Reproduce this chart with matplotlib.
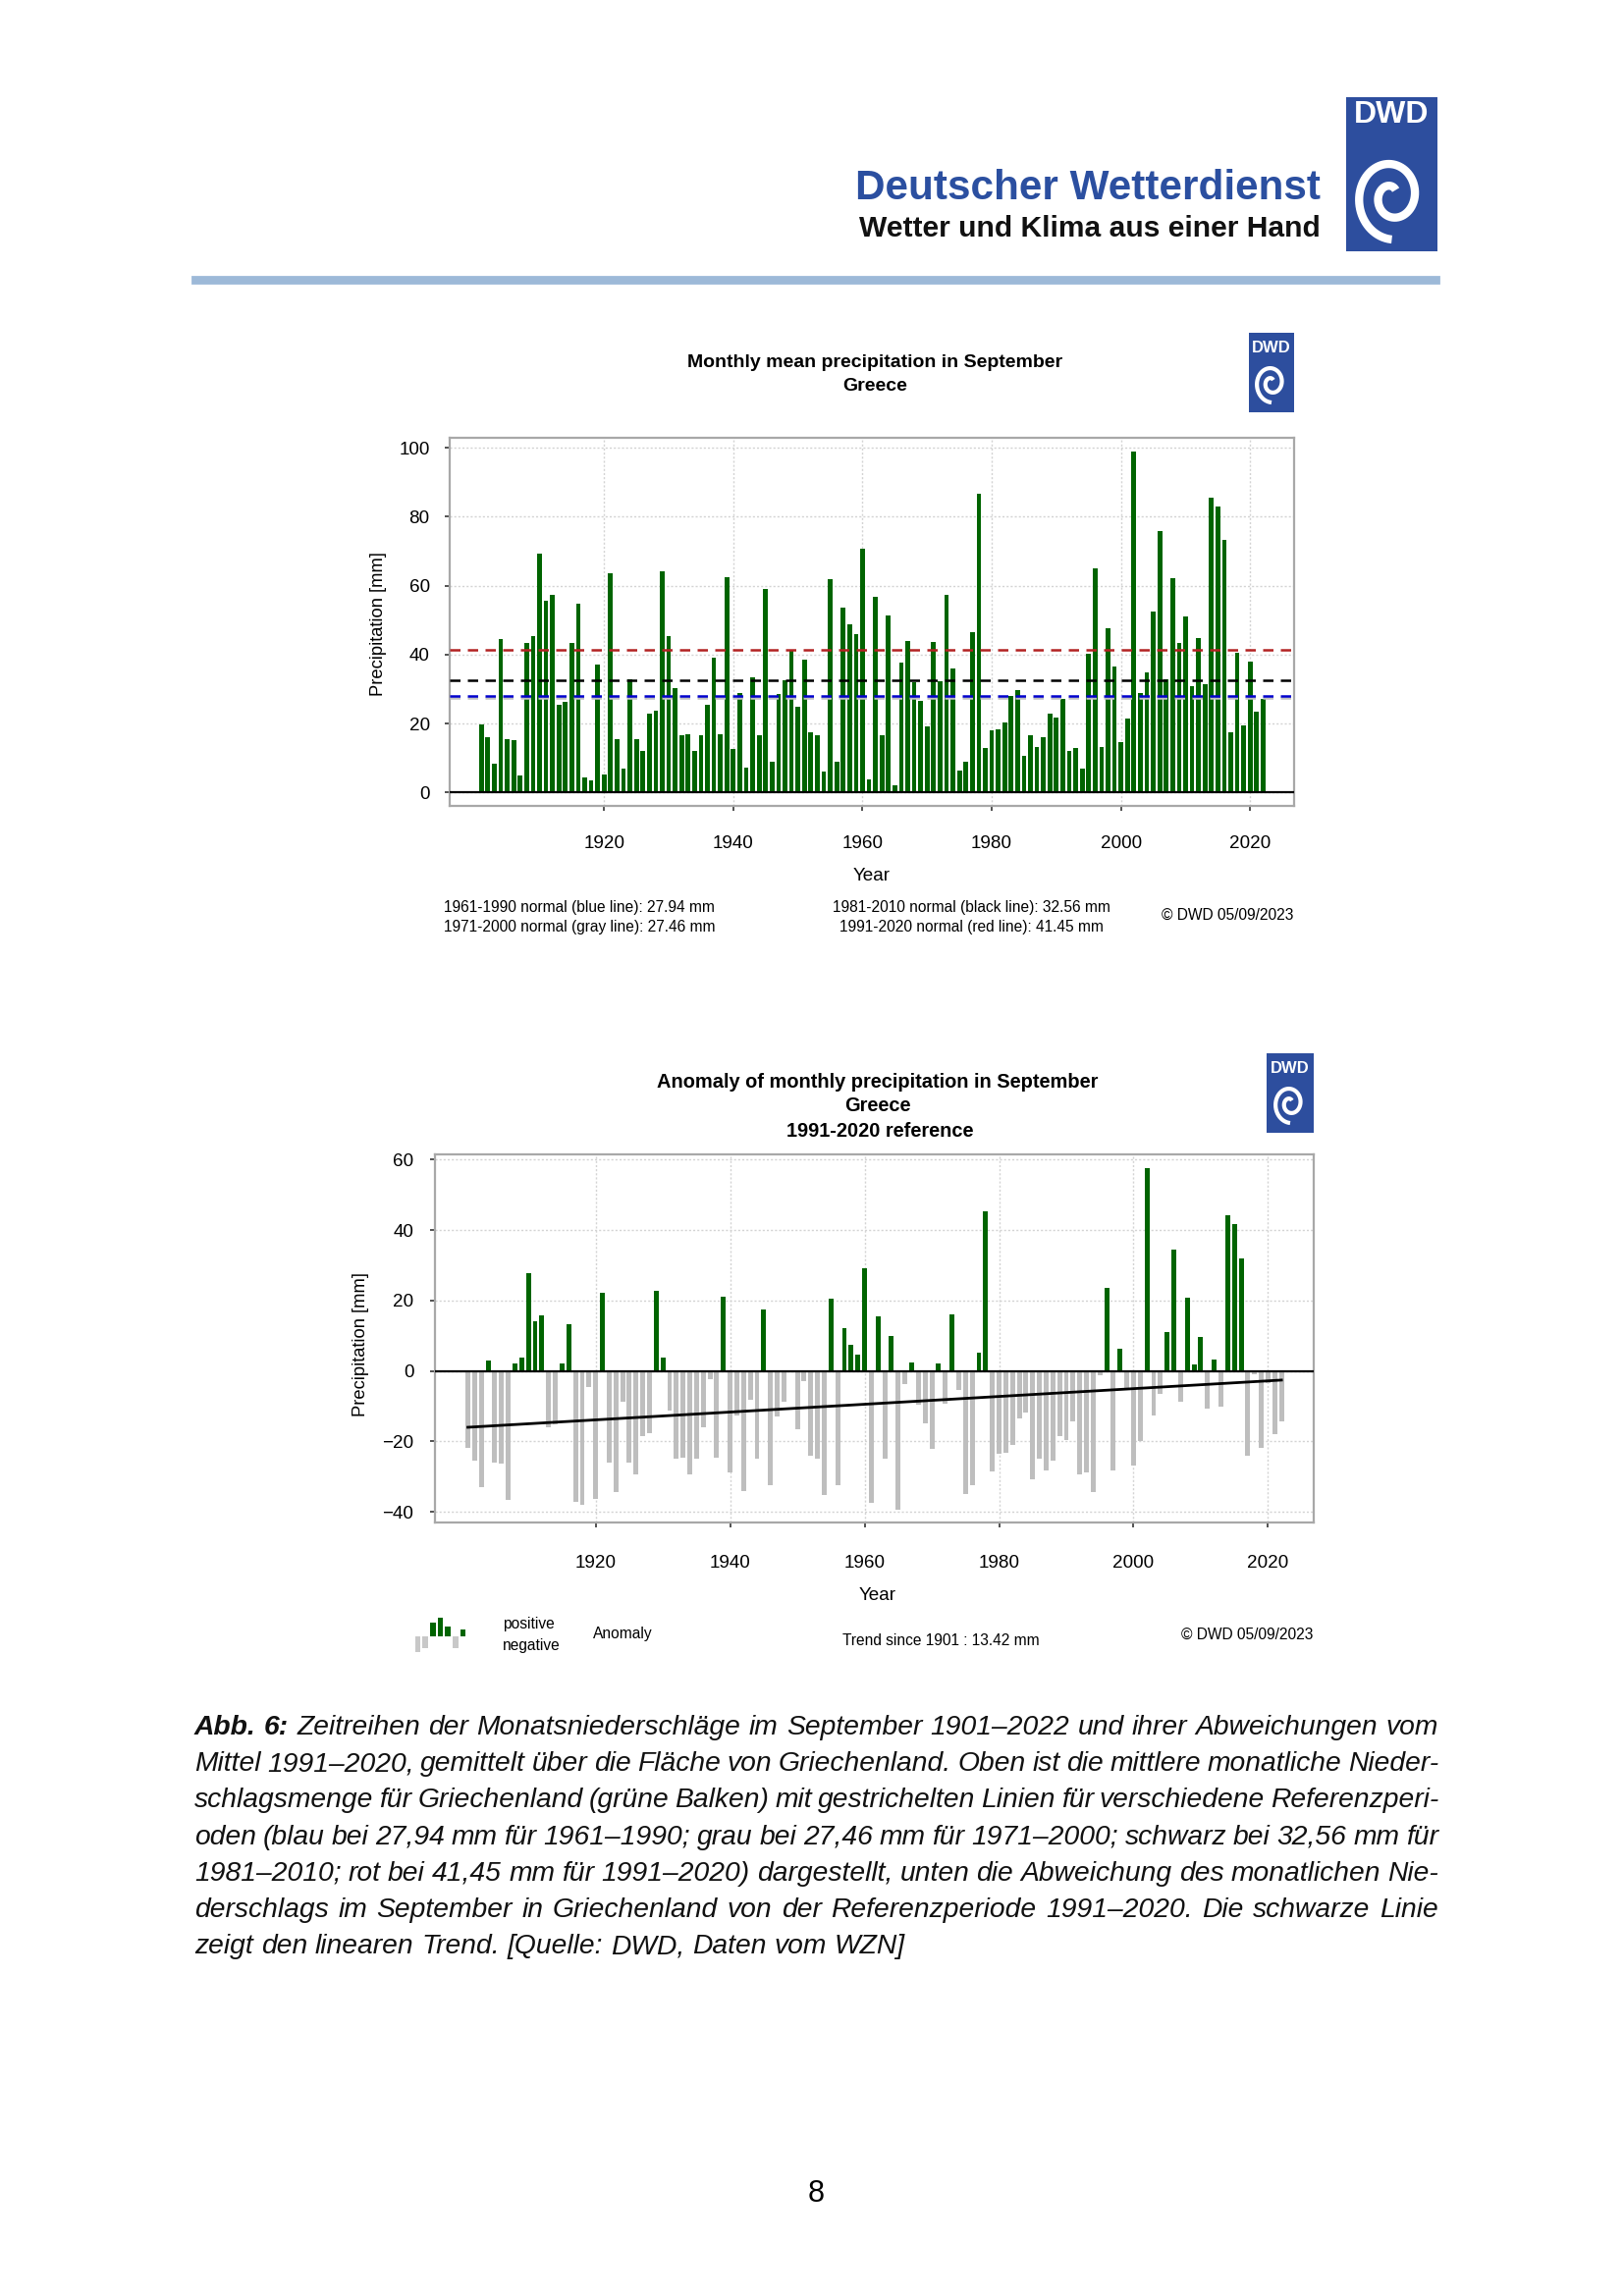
import numpy as np
import matplotlib
matplotlib.use('Agg')
import matplotlib.pyplot as plt
from matplotlib.patches import Rectangle

W, H = 1654, 2339
DPI = 200

# ---------------- data ----------------
years = list(range(1901, 2023))
precip = [
    19.6, 15.9, 8.4, 44.5, 15.4, 15.2, 4.8, 43.5, 45.4, 69.2,      # 1901-1910
    55.5, 57.2, 25.4, 26.3, 43.5, 54.7, 4.3, 3.5, 37.0, 5.1,       # 1911-1920
    63.6, 15.5, 7.0, 32.7, 15.5, 12.1, 22.9, 23.8, 64.2, 45.4,     # 1921-1930
    30.2, 16.5, 16.9, 12.1, 16.6, 25.5, 39.0, 16.8, 62.5, 12.7,    # 1931-1940
    28.9, 7.3, 33.3, 16.6, 58.9, 9.0, 28.6, 32.6, 41.0, 24.9,      # 1941-1950
    38.5, 17.4, 16.5, 6.2, 61.9, 9.0, 53.5, 48.8, 46.0, 70.6,      # 1951-1960
    3.9, 56.9, 16.6, 51.3, 2.2, 37.7, 44.0, 32.0, 26.6, 19.3,      # 1961-1970
    43.7, 32.2, 57.4, 36.0, 6.4, 9.0, 46.6, 86.8, 12.9, 17.9,      # 1971-1980
    18.2, 20.4, 27.9, 29.8, 10.6, 16.7, 13.2, 15.9, 23.0, 21.8,    # 1981-1990
    27.1, 12.1, 12.8, 7.0, 40.3, 65.0, 13.2, 47.7, 36.6, 14.7,     # 1991-2000
    21.5, 99.0, 28.9, 34.9, 52.5, 75.9, 32.8, 62.3, 43.3, 51.1,    # 2001-2010
    30.9, 44.8, 31.4, 85.6, 83.1, 73.3, 17.4, 40.5, 19.5, 38.0,    # 2011-2020
    23.4, 27.1,                                                     # 2021-2022
]
normal_1961_1990 = 27.94
normal_1971_2000 = 27.46
normal_1981_2010 = 32.56
normal_1991_2020 = 41.45
xticks = [1920, 1940, 1960, 1980, 2000, 2020]
yticks_top = [0, 20, 40, 60, 80, 100]
yticks_bottom = [-40, -20, 0, 20, 40, 60]
legend_icon_vals = [-4.5, -3.5, 4.0, 5.5, 3.0, -3.5, 2.0]

GREEN = '#006400'
GRAY_BAR = '#BEBEBE'
DWD_BLUE = '#2D4E9E'

plt.rcParams['font.family'] = ['Liberation Sans', 'DejaVu Sans']

fig = plt.figure(figsize=(W / DPI, H / DPI), dpi=DPI)


def fy(y):
    return 1 - y / H


def box(x0, y0, x1, y1):
    return [x0 / W, 1 - y1 / H, (x1 - x0) / W, (y1 - y0) / H]


def txt(x, y, s, **kw):
    return fig.text(x / W, fy(y), s, **kw)


# ---------------- logos ----------------
def logo(x0, y0, x1, y1, fs, lw, text_frac, sp_frac, rx, ry):
    ax = fig.add_axes(box(x0, y0, x1, y1))
    ax.set_xlim(0, 1)
    ax.set_ylim(0, 1)
    ax.axis('off')
    ax.add_patch(Rectangle((0, 0), 1, 1, color=DWD_BLUE))
    ax.text(0.5, text_frac, 'DWD', color='white', weight='bold', fontsize=fs,
            ha='center', va='center')
    w = x1 - x0
    h = y1 - y0
    t = np.linspace(0, 3.2 * np.pi, 400)
    r = 0.18 + 0.82 * t / t.max()
    ang = t + 0.3 * np.pi
    xs = 0.5 + rx * r * np.cos(ang) / w
    ys = sp_frac + ry * r * np.sin(ang) / h
    ax.plot(xs, ys, color='white', lw=lw, solid_capstyle='butt')


logo(1371, 99, 1464, 256, 11.5, 3.0, 0.885, 0.357, 38, 44)
logo(1272, 339, 1318, 420, 6.0, 1.5, 0.81, 0.37, 17, 20)
logo(1290, 1073, 1338, 1154, 6.0, 1.5, 0.81, 0.37, 17, 20)

# ---------------- header ----------------
txt(1345, 203, 'Deutscher Wetterdienst', color='#2B4FA0', weight='bold',
    fontsize=15.2, ha='right', va='baseline')
txt(1345, 241, 'Wetter und Klima aus einer Hand', color='#111111', weight='bold',
    fontsize=10.8, ha='right', va='baseline')
fig.patches.append(Rectangle((196 / W, fy(288)), (1465 - 196) / W, 6 / H,
                             transform=fig.transFigure, color='#9DB9D8', zorder=1))


def style_axes(ax, pad_y, pad_x):
    for sp in ax.spines.values():
        sp.set_color('#A8A8A8')
        sp.set_linewidth(0.8)
    ax.tick_params(axis='both', direction='out', length=1.8, width=0.6,
                   colors='#333333', labelsize=6.8, labelcolor='black')
    ax.tick_params(axis='y', pad=pad_y)
    ax.tick_params(axis='x', pad=pad_x)
    ax.grid(True, color='#D3D3D3', linestyle=(0, (1.5, 1.5)), lw=0.5)
    ax.set_axisbelow(True)
    ax.set_xticks(xticks)
    ax.set_xlim(1896.1, 2026.8)


# ---------------- top chart ----------------
ax1 = fig.add_axes(box(458, 446, 1318, 821))
ax1.bar(years, precip, width=0.72, color=GREEN, zorder=2)
ax1.axhline(0, color='black', lw=0.8, zorder=3)
dash = (0, (4.2, 3.0))
ax1.axhline(normal_1971_2000, color='#C0C0C0', lw=0.9, ls=dash, zorder=4)
ax1.axhline(normal_1961_1990, color='#0000CD', lw=0.9, ls=dash, zorder=4)
ax1.axhline(normal_1981_2010, color='black', lw=0.9, ls=dash, zorder=4)
ax1.axhline(normal_1991_2020, color='#B22222', lw=0.9, ls=dash, zorder=4)
ax1.set_ylim(-3.9, 102.9)
ax1.set_yticks(yticks_top)
style_axes(ax1, 5.5, 9.0)

txt(891, 369, 'Monthly mean precipitation in September', weight='bold',
    fontsize=7.0, ha='center', va='center')
txt(891, 393, 'Greece', weight='bold', fontsize=7.0, ha='center', va='center')
txt(386, 636, 'Precipitation [mm]', fontsize=6.6, rotation=90, ha='center', va='center')
txt(888, 892, 'Year', fontsize=6.8, ha='center', va='center')

fs_note = 5.6
txt(452, 925, '1961-1990 normal (blue line): 27.94 mm', fontsize=fs_note, ha='left', va='center')
txt(452, 945, '1971-2000 normal (gray line): 27.46 mm', fontsize=fs_note, ha='left', va='center')
txt(989, 925, '1981-2010 normal (black line): 32.56 mm', fontsize=fs_note, ha='center', va='center')
txt(989, 945, '1991-2020 normal (red line): 41.45 mm', fontsize=fs_note, ha='center', va='center')
txt(1317, 932, '\u00a9 DWD 05/09/2023', fontsize=fs_note, ha='right', va='center')

# ---------------- bottom chart ----------------
anomaly = np.array(precip) - normal_1991_2020
colors = [GREEN if a > 0 else GRAY_BAR for a in anomaly]
ax2 = fig.add_axes(box(443, 1176, 1338, 1551))
ax2.bar(years, anomaly, width=0.72, color=colors, zorder=2)
ax2.axhline(0, color='black', lw=0.8, zorder=3)
coef = np.polyfit(years, anomaly, 1)
ax2.plot([years[0], years[-1]], np.polyval(coef, [years[0], years[-1]]),
         color='black', lw=1.0, zorder=4)
ax2.set_ylim(-43.0, 61.5)
ax2.set_yticks(yticks_bottom)
style_axes(ax2, 6.0, 10.0)

txt(894, 1102, 'Anomaly of monthly precipitation in September', weight='bold',
    fontsize=7.2, ha='center', va='center')
txt(894, 1126, 'Greece', weight='bold', fontsize=7.2, ha='center', va='center')
txt(896, 1152, '1991-2020 reference', weight='bold', fontsize=7.2, ha='center', va='center')
txt(367, 1370, 'Precipitation [mm]', fontsize=6.6, rotation=90, ha='center', va='center')
txt(894, 1626, 'Year', fontsize=6.8, ha='center', va='center')

# legend icon
axi = fig.add_axes(box(421, 1646, 476, 1688))
icon_x = np.arange(len(legend_icon_vals))
axi.bar(icon_x, legend_icon_vals, width=0.75,
        color=[GREEN if v > 0 else '#C8C8C8' for v in legend_icon_vals])
axi.set_xlim(-0.6, len(legend_icon_vals) - 0.4)
axi.set_ylim(-6, 6)
axi.axis('off')

txt(512, 1654, 'positive', fontsize=fs_note, ha='left', va='center')
txt(512, 1677, 'negative', fontsize=fs_note, ha='left', va='center')
txt(604, 1665, 'Anomaly', fontsize=fs_note, ha='left', va='center')
txt(858, 1672, 'Trend since 1901 : 13.42 mm', fontsize=fs_note, ha='left', va='center')
txt(1337, 1665, '\u00a9 DWD 05/09/2023', fontsize=fs_note, ha='right', va='center')

# ---------------- caption (justified) ----------------
cap_lines = [
    "Abb. 6: Zeitreihen der Monatsniederschläge im September 1901–2022 und ihrer Abweichungen vom",
    "Mittel 1991–2020, gemittelt über die Fläche von Griechenland. Oben ist die mittlere monatliche Nieder-",
    "schlagsmenge für Griechenland (grüne Balken) mit gestrichelten Linien für verschiedene Referenzperi-",
    "oden (blau bei 27,94 mm für 1961–1990; grau bei 27,46 mm für 1971–2000; schwarz bei 32,56 mm für",
    "1981–2010; rot bei 41,45 mm für 1991–2020) dargestellt, unten die Abweichung des monatlichen Nie-",
    "derschlags im September in Griechenland von der Referenzperiode 1991–2020. Die schwarze Linie",
    "zeigt den linearen Trend. [Quelle: DWD, Daten vom WZN]",
]
cap_left, cap_right = 198, 1465
cap_base0, cap_step = 1767, 37.2

renderer = fig.canvas.get_renderer()


def measure(s, weight, fs):
    t = fig.text(0, 0, s, fontsize=fs, style='italic', weight=weight)
    w = t.get_window_extent(renderer).width
    t.remove()
    return w


def words_of(i, line):
    ws = line.split(' ')
    out = []
    for j, w in enumerate(ws):
        bold = (i == 0 and j < 2)
        out.append((w, 'bold' if bold else 'normal'))
    return out


target = cap_right - cap_left
fs = 11.0
while fs > 7:
    sp = measure('a a', 'normal', fs) - measure('aa', 'normal', fs)
    ok = True
    for i, line in enumerate(cap_lines[:-1]):
        ws = words_of(i, line)
        tot = sum(measure(w, wt, fs) for w, wt in ws) + 0.6 * sp * (len(ws) - 1)
        if tot > target:
            ok = False
            break
    if ok:
        break
    fs -= 0.1

sp = measure('a a', 'normal', fs) - measure('aa', 'normal', fs)
for i, line in enumerate(cap_lines):
    ws = words_of(i, line)
    widths = [measure(w, wt, fs) for w, wt in ws]
    if i < len(cap_lines) - 1:
        gap = (target - sum(widths)) / (len(ws) - 1)
    else:
        gap = sp
    x = cap_left
    yb = cap_base0 + i * cap_step
    for (w, wt), wd in zip(ws, widths):
        txt(x, yb, w, fontsize=fs, style='italic', weight=wt, ha='left',
            va='baseline', color='#111111')
        x += wd + gap

# page number
txt(831, 2235, '8', fontsize=11, ha='center', va='center')

fig.savefig('out.png', dpi=DPI)
